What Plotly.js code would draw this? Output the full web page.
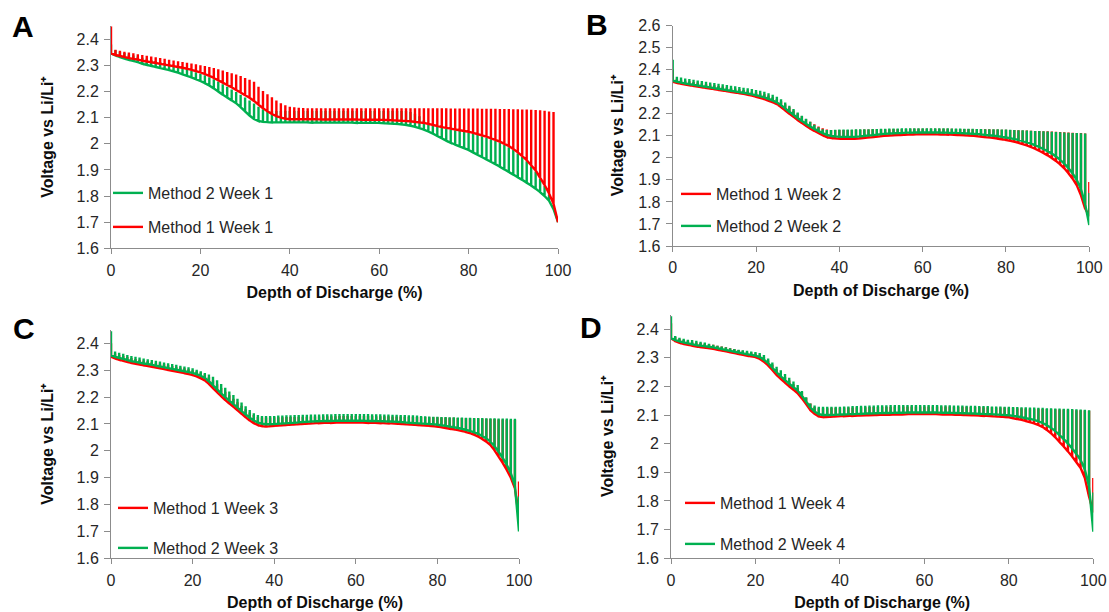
<!DOCTYPE html>
<html>
<head>
<meta charset="utf-8">
<script src="https://cdn.plot.ly/plotly-3.0.1.min.js"></script>
<style>html,body{margin:0;padding:0;background:#fff;}#chart{width:1109px;height:612px;}</style>
</head>
<body>
<div id="chart"></div>
<script>
// Depth of discharge (%) at each pulse
const dod = [0,1,2,3,4,5,6,7,8,9,10,11,12,13,14,15,16,17,18,19,20,21,22,23,24,25,26,27,28,29,30,31,32,33,34,35,36,37,38,39,40,41,42,43,44,45,46,47,48,49,50,51,52,53,54,55,56,57,58,59,60,61,62,63,64,65,66,67,68,69,70,71,72,73,74,75,76,77,78,79,80,81,82,83,84,85,86,87,88,89,90,91,92,93,94,95,96,97,98,99,100];

const xTickVals = [0,20,40,60,80,100];
const yTickVals = [1.6,1.7,1.8,1.9,2.0,2.1,2.2,2.3,2.4];
const yTickText = ['1.6','1.7','1.8','1.9','2','2.1','2.2','2.3','2.4'];
const yTickValsB = [1.6,1.7,1.8,1.9,2.0,2.1,2.2,2.3,2.4,2.5,2.6];
const yTickTextB = ['1.6','1.7','1.8','1.9','2','2.1','2.2','2.3','2.4','2.5','2.6'];

const panelLetters = ['A','B','C','D'];
const xTitle = 'Depth of Discharge (%)';
const yTitle = 'Voltage vs Li/Li\u207A';
const seriesNames = {
  A_M1:'Method 1 Week 1', A_M2:'Method 2 Week 1',
  B_M1:'Method 1 Week 2', B_M2:'Method 2 Week 2',
  C_M1:'Method 1 Week 3', C_M2:'Method 2 Week 3',
  D_M1:'Method 1 Week 4', D_M2:'Method 2 Week 4'
};

// Panel A – Method 1 Week 1 (voltage under load / after rest)
const A_M1_low = [2.346,2.340,2.336,2.332,2.328,2.325,2.322,2.318,2.315,2.312,
 2.309,2.306,2.303,2.300,2.297,2.294,2.291,2.287,2.283,2.278,
 2.273,2.267,2.260,2.252,2.243,2.234,2.225,2.216,2.206,2.196,
 2.186,2.176,2.164,2.150,2.136,2.124,2.114,2.106,2.100,2.096,
 2.094,2.094,2.094,2.094,2.094,2.094,2.094,2.093,2.093,2.093,
 2.093,2.093,2.093,2.093,2.093,2.093,2.092,2.092,2.092,2.092,
 2.092,2.091,2.091,2.090,2.089,2.088,2.087,2.086,2.084,2.082,
 2.080,2.076,2.072,2.068,2.064,2.061,2.058,2.055,2.052,2.049,
 2.046,2.042,2.037,2.032,2.027,2.021,2.015,2.008,2.000,1.991,
 1.980,1.967,1.953,1.937,1.918,1.898,1.870,1.842,1.810,1.770,
 1.700];
const A_M1_up = [2.450,2.360,2.356,2.352,2.349,2.346,2.343,2.340,2.337,2.334,
 2.331,2.328,2.325,2.322,2.319,2.316,2.313,2.310,2.307,2.304,
 2.301,2.298,2.294,2.290,2.285,2.280,2.275,2.270,2.265,2.259,
 2.252,2.245,2.237,2.218,2.202,2.190,2.178,2.166,2.155,2.147,
 2.142,2.140,2.138,2.137,2.136,2.136,2.136,2.136,2.136,2.136,
 2.136,2.136,2.136,2.136,2.136,2.136,2.136,2.136,2.136,2.136,
 2.136,2.136,2.136,2.136,2.136,2.136,2.136,2.136,2.136,2.136,
 2.136,2.136,2.136,2.136,2.136,2.136,2.135,2.135,2.135,2.135,
 2.135,2.135,2.135,2.134,2.134,2.134,2.134,2.133,2.133,2.133,
 2.132,2.132,2.131,2.131,2.130,2.129,2.128,2.126,2.124,2.122,
 1.700];
// Panel A – Method 2 Week 1
const A_M2_low = [2.346,2.338,2.332,2.326,2.321,2.317,2.312,2.306,2.302,2.298,
 2.294,2.290,2.286,2.282,2.277,2.272,2.266,2.260,2.254,2.247,
 2.240,2.232,2.223,2.212,2.200,2.188,2.177,2.166,2.155,2.140,
 2.124,2.108,2.095,2.087,2.084,2.083,2.082,2.082,2.082,2.082,
 2.082,2.082,2.082,2.082,2.082,2.081,2.081,2.081,2.081,2.081,
 2.081,2.081,2.081,2.081,2.081,2.080,2.080,2.080,2.080,2.080,
 2.080,2.079,2.078,2.077,2.076,2.074,2.072,2.069,2.065,2.060,
 2.054,2.047,2.039,2.030,2.021,2.012,2.004,1.997,1.990,1.983,
 1.976,1.967,1.958,1.949,1.940,1.931,1.922,1.912,1.902,1.892,
 1.882,1.872,1.862,1.851,1.840,1.828,1.815,1.800,1.782,1.750,
 1.700];
const A_M2_up = [2.380,2.358,2.352,2.347,2.342,2.338,2.334,2.329,2.325,2.321,
 2.317,2.313,2.309,2.305,2.301,2.296,2.291,2.286,2.280,2.274,
 2.268,2.262,2.255,2.247,2.238,2.228,2.218,2.208,2.198,2.188,
 2.177,2.166,2.154,2.142,2.132,2.126,2.125,2.125,2.125,2.125,
 2.125,2.125,2.125,2.125,2.125,2.125,2.125,2.125,2.125,2.125,
 2.125,2.125,2.125,2.125,2.125,2.125,2.125,2.125,2.125,2.125,
 2.125,2.125,2.125,2.125,2.125,2.125,2.125,2.122,2.115,2.105,
 2.090,2.074,2.070,2.066,2.062,2.058,2.055,2.052,2.049,2.046,
 2.043,2.039,2.034,2.029,2.023,2.017,2.011,2.004,1.996,1.987,
 1.976,1.963,1.949,1.933,1.914,1.894,1.866,1.838,1.806,1.766,
 1.700];

// Panel B – Method 1 Week 2
const B_M1_low = [2.345,2.340,2.336,2.332,2.329,2.326,2.323,2.320,2.317,2.314,
 2.311,2.308,2.305,2.302,2.299,2.296,2.293,2.290,2.286,2.282,
 2.277,2.272,2.266,2.259,2.252,2.243,2.230,2.215,2.200,2.186,
 2.171,2.158,2.145,2.133,2.122,2.112,2.102,2.094,2.090,2.088,
 2.087,2.086,2.086,2.086,2.087,2.088,2.090,2.092,2.094,2.096,
 2.098,2.100,2.101,2.102,2.103,2.104,2.105,2.106,2.106,2.107,
 2.107,2.107,2.107,2.107,2.106,2.106,2.105,2.105,2.104,2.103,
 2.102,2.101,2.100,2.098,2.096,2.094,2.092,2.090,2.087,2.084,
 2.081,2.077,2.073,2.068,2.062,2.056,2.049,2.041,2.032,2.022,
 2.011,1.999,1.986,1.970,1.952,1.930,1.905,1.875,1.830,1.770,
 1.735];
const B_M1_up = [2.400,2.358,2.354,2.350,2.347,2.344,2.341,2.338,2.335,2.332,
 2.329,2.326,2.323,2.320,2.317,2.314,2.311,2.308,2.305,2.301,
 2.297,2.293,2.288,2.282,2.275,2.267,2.256,2.243,2.229,2.215,
 2.201,2.188,2.175,2.163,2.152,2.142,2.134,2.128,2.126,2.126,
 2.126,2.126,2.126,2.126,2.127,2.127,2.128,2.128,2.129,2.129,
 2.130,2.130,2.130,2.131,2.131,2.131,2.131,2.132,2.132,2.132,
 2.132,2.132,2.132,2.132,2.132,2.132,2.132,2.132,2.131,2.131,
 2.131,2.131,2.130,2.130,2.130,2.129,2.129,2.128,2.128,2.127,
 2.127,2.126,2.126,2.125,2.124,2.124,2.123,2.122,2.121,2.120,
 2.120,2.119,2.118,2.117,2.116,2.115,2.114,2.113,2.112,2.110,
 1.890];
// Panel B – Method 2 Week 2
const B_M2_low = [2.350,2.345,2.341,2.337,2.334,2.331,2.328,2.325,2.322,2.319,
 2.316,2.313,2.310,2.307,2.304,2.301,2.298,2.295,2.292,2.288,
 2.284,2.279,2.274,2.267,2.260,2.251,2.239,2.224,2.209,2.195,
 2.180,2.167,2.154,2.142,2.131,2.121,2.112,2.104,2.099,2.097,
 2.096,2.095,2.095,2.095,2.096,2.097,2.099,2.101,2.103,2.105,
 2.107,2.109,2.110,2.111,2.112,2.113,2.114,2.114,2.115,2.115,
 2.115,2.115,2.115,2.115,2.115,2.114,2.114,2.113,2.113,2.112,
 2.111,2.110,2.109,2.108,2.106,2.104,2.102,2.100,2.098,2.095,
 2.092,2.089,2.085,2.081,2.076,2.070,2.064,2.057,2.049,2.040,
 2.030,2.019,2.006,1.991,1.974,1.953,1.929,1.899,1.858,1.790,
 1.695];
const B_M2_up = [2.445,2.368,2.364,2.360,2.357,2.354,2.351,2.348,2.345,2.342,
 2.339,2.336,2.333,2.330,2.327,2.324,2.321,2.318,2.315,2.312,
 2.308,2.304,2.299,2.293,2.286,2.277,2.265,2.251,2.236,2.221,
 2.206,2.191,2.177,2.163,2.150,2.139,2.130,2.126,2.126,2.127,
 2.128,2.128,2.128,2.128,2.129,2.129,2.130,2.130,2.131,2.131,
 2.132,2.132,2.133,2.133,2.133,2.134,2.134,2.134,2.134,2.134,
 2.134,2.134,2.134,2.134,2.134,2.134,2.134,2.133,2.133,2.133,
 2.132,2.132,2.132,2.131,2.131,2.130,2.130,2.129,2.129,2.128,
 2.128,2.127,2.126,2.125,2.125,2.124,2.123,2.122,2.121,2.120,
 2.119,2.118,2.117,2.116,2.115,2.114,2.113,2.112,2.111,2.110,
 1.840];

// Panel C – Method 1 Week 3
const C_M1_low = [2.350,2.344,2.339,2.335,2.331,2.327,2.324,2.321,2.318,2.316,
 2.313,2.310,2.307,2.304,2.301,2.298,2.295,2.292,2.289,2.286,
 2.282,2.277,2.270,2.262,2.249,2.233,2.218,2.203,2.189,2.176,
 2.164,2.151,2.138,2.125,2.113,2.103,2.096,2.092,2.091,2.092,
 2.093,2.094,2.095,2.096,2.097,2.098,2.099,2.100,2.101,2.102,
 2.103,2.103,2.104,2.104,2.104,2.105,2.105,2.105,2.105,2.105,
 2.105,2.105,2.105,2.104,2.104,2.104,2.103,2.103,2.102,2.102,
 2.101,2.100,2.099,2.098,2.097,2.096,2.095,2.094,2.093,2.092,
 2.090,2.088,2.085,2.082,2.080,2.077,2.074,2.070,2.066,2.060,
 2.053,2.044,2.034,2.021,2.002,1.978,1.955,1.929,1.900,1.860,
 1.750];
const C_M1_up = [2.400,2.362,2.357,2.353,2.349,2.345,2.342,2.339,2.336,2.334,
 2.331,2.328,2.325,2.322,2.319,2.316,2.313,2.310,2.307,2.304,
 2.300,2.296,2.291,2.285,2.275,2.262,2.248,2.234,2.220,2.207,
 2.194,2.181,2.168,2.155,2.143,2.133,2.126,2.124,2.124,2.124,
 2.125,2.125,2.125,2.126,2.126,2.126,2.127,2.127,2.127,2.128,
 2.128,2.128,2.129,2.129,2.129,2.129,2.130,2.130,2.130,2.130,
 2.130,2.130,2.130,2.130,2.130,2.129,2.129,2.129,2.129,2.128,
 2.128,2.128,2.127,2.127,2.127,2.126,2.126,2.126,2.125,2.125,
 2.125,2.124,2.124,2.123,2.123,2.122,2.122,2.121,2.121,2.120,
 2.120,2.119,2.119,2.118,2.118,2.117,2.117,2.116,2.116,2.115,
 1.886];
// Panel C – Method 2 Week 3
const C_M2_low = [2.355,2.350,2.346,2.342,2.338,2.334,2.331,2.328,2.325,2.323,
 2.320,2.317,2.314,2.311,2.308,2.305,2.302,2.299,2.296,2.293,
 2.290,2.285,2.279,2.271,2.259,2.244,2.229,2.214,2.200,2.187,
 2.174,2.161,2.148,2.135,2.123,2.113,2.105,2.101,2.099,2.099,
 2.100,2.101,2.102,2.103,2.104,2.105,2.106,2.107,2.108,2.109,
 2.110,2.110,2.111,2.111,2.111,2.112,2.112,2.112,2.112,2.112,
 2.112,2.112,2.112,2.111,2.111,2.111,2.110,2.110,2.109,2.109,
 2.108,2.107,2.106,2.105,2.104,2.103,2.102,2.101,2.100,2.099,
 2.097,2.095,2.093,2.090,2.088,2.085,2.082,2.078,2.074,2.069,
 2.063,2.055,2.046,2.034,2.017,1.996,1.974,1.948,1.917,1.870,
 1.700];
const C_M2_up = [2.445,2.370,2.365,2.361,2.357,2.353,2.350,2.347,2.344,2.341,
 2.338,2.335,2.332,2.329,2.326,2.323,2.320,2.317,2.314,2.311,
 2.307,2.302,2.296,2.290,2.284,2.276,2.263,2.249,2.235,2.221,
 2.208,2.194,2.180,2.166,2.152,2.140,2.133,2.130,2.130,2.130,
 2.130,2.131,2.131,2.132,2.132,2.133,2.133,2.134,2.134,2.135,
 2.135,2.135,2.136,2.136,2.136,2.137,2.137,2.137,2.137,2.137,
 2.137,2.137,2.137,2.137,2.136,2.136,2.136,2.135,2.135,2.134,
 2.134,2.133,2.133,2.132,2.132,2.131,2.130,2.129,2.128,2.127,
 2.127,2.126,2.126,2.125,2.125,2.124,2.124,2.123,2.123,2.122,
 2.122,2.122,2.121,2.121,2.121,2.120,2.120,2.120,2.119,2.119,
 1.830];

// Panel D – Method 1 Week 4
const D_M1_low = [2.368,2.358,2.352,2.348,2.345,2.342,2.339,2.337,2.335,2.333,
 2.331,2.328,2.325,2.322,2.319,2.316,2.313,2.310,2.307,2.305,
 2.302,2.296,2.286,2.273,2.257,2.240,2.226,2.213,2.200,2.188,
 2.176,2.158,2.138,2.117,2.104,2.095,2.093,2.093,2.094,2.095,
 2.096,2.096,2.097,2.097,2.098,2.098,2.099,2.099,2.100,2.100,
 2.101,2.101,2.101,2.102,2.102,2.102,2.103,2.103,2.103,2.103,
 2.103,2.103,2.103,2.103,2.102,2.102,2.102,2.101,2.101,2.100,
 2.100,2.099,2.099,2.098,2.097,2.097,2.096,2.095,2.094,2.093,
 2.092,2.089,2.086,2.083,2.079,2.075,2.071,2.065,2.058,2.048,
 2.036,2.022,2.006,1.990,1.973,1.955,1.935,1.915,1.880,1.815,
 1.760];
const D_M1_up = [2.420,2.372,2.366,2.362,2.359,2.356,2.353,2.351,2.349,2.347,
 2.345,2.342,2.339,2.336,2.333,2.330,2.327,2.324,2.321,2.318,
 2.315,2.310,2.302,2.290,2.276,2.260,2.246,2.233,2.220,2.207,
 2.195,2.180,2.160,2.140,2.128,2.124,2.124,2.124,2.125,2.125,
 2.125,2.126,2.126,2.126,2.127,2.127,2.127,2.128,2.128,2.128,
 2.129,2.129,2.129,2.130,2.130,2.130,2.130,2.130,2.130,2.130,
 2.130,2.130,2.130,2.130,2.130,2.130,2.130,2.129,2.129,2.129,
 2.129,2.128,2.128,2.128,2.127,2.127,2.127,2.126,2.126,2.126,
 2.125,2.125,2.124,2.124,2.123,2.123,2.122,2.122,2.121,2.121,
 2.120,2.120,2.119,2.119,2.118,2.118,2.117,2.117,2.116,2.115,
 1.880];
// Panel D – Method 2 Week 4
const D_M2_low = [2.368,2.362,2.357,2.353,2.350,2.347,2.344,2.342,2.340,2.338,
 2.336,2.333,2.330,2.327,2.324,2.321,2.318,2.315,2.312,2.310,
 2.307,2.302,2.293,2.281,2.265,2.249,2.235,2.222,2.209,2.197,
 2.185,2.167,2.147,2.126,2.112,2.103,2.100,2.100,2.100,2.101,
 2.102,2.102,2.103,2.103,2.104,2.104,2.105,2.105,2.106,2.106,
 2.107,2.107,2.107,2.108,2.108,2.108,2.109,2.109,2.109,2.109,
 2.109,2.109,2.109,2.109,2.108,2.108,2.108,2.107,2.107,2.106,
 2.106,2.105,2.105,2.104,2.104,2.103,2.103,2.102,2.101,2.100,
 2.099,2.097,2.095,2.092,2.089,2.086,2.083,2.078,2.072,2.064,
 2.055,2.044,2.030,2.016,2.000,1.983,1.964,1.943,1.910,1.850,
 1.693];
const D_M2_up = [2.445,2.376,2.370,2.366,2.363,2.362,2.359,2.356,2.353,2.349,
 2.345,2.342,2.339,2.336,2.333,2.330,2.328,2.326,2.324,2.322,
 2.320,2.316,2.309,2.297,2.283,2.268,2.256,2.243,2.230,2.217,
 2.205,2.184,2.162,2.140,2.133,2.129,2.129,2.129,2.129,2.129,
 2.129,2.130,2.130,2.131,2.131,2.132,2.132,2.133,2.133,2.134,
 2.134,2.134,2.135,2.135,2.135,2.135,2.135,2.135,2.135,2.135,
 2.135,2.135,2.135,2.135,2.134,2.134,2.134,2.133,2.133,2.133,
 2.132,2.132,2.132,2.131,2.131,2.131,2.130,2.130,2.130,2.129,
 2.129,2.128,2.128,2.127,2.127,2.126,2.126,2.125,2.125,2.124,
 2.124,2.123,2.123,2.122,2.122,2.121,2.120,2.119,2.118,2.117,
 1.830];

// ---------- build the figure ----------
const RED = '#FF0000', GREEN = '#00B050';
const FONT = 'Liberation Sans, Arial, Helvetica, sans-serif';
const LW = 2.4;
const FS = 16;

function pulseTrace(low, up, name, color, xa, ya, legendId) {
  const xs = [], ys = [];
  for (let i = 0; i < dod.length; i++) {
    xs.push(dod[i], dod[i], dod[i]);
    ys.push(low[i], up[i], low[i]);
  }
  return {
    type: 'scatter', mode: 'lines', x: xs, y: ys, name: name,
    xaxis: xa, yaxis: ya, legend: legendId, showlegend: true,
    line: {color: color, width: LW, simplify: false},
    hoverinfo: 'skip'
  };
}

const traces = [
  pulseTrace(A_M2_low, A_M2_up, seriesNames.A_M2, GREEN, 'x', 'y', 'legend'),
  pulseTrace(A_M1_low, A_M1_up, seriesNames.A_M1, RED, 'x', 'y', 'legend2'),
  pulseTrace(B_M1_low, B_M1_up, seriesNames.B_M1, RED, 'x2', 'y2', 'legend3'),
  pulseTrace(B_M2_low, B_M2_up, seriesNames.B_M2, GREEN, 'x2', 'y2', 'legend4'),
  pulseTrace(C_M1_low, C_M1_up, seriesNames.C_M1, RED, 'x3', 'y3', 'legend5'),
  pulseTrace(C_M2_low, C_M2_up, seriesNames.C_M2, GREEN, 'x3', 'y3', 'legend6'),
  pulseTrace(D_M1_low, D_M1_up, seriesNames.D_M1, RED, 'x4', 'y4', 'legend7'),
  pulseTrace(D_M2_low, D_M2_up, seriesNames.D_M2, GREEN, 'x4', 'y4', 'legend8')
];

const W = 1109, H = 612;
const AXC = '#8c8c8c';
function xAxis(domain, anchor) {
  return {
    domain: domain, anchor: anchor, range: [0, 100],
    tickmode: 'array', tickvals: xTickVals,
    showline: true, linecolor: AXC, linewidth: 1,
    ticks: 'outside', ticklen: 5, tickcolor: AXC, tickwidth: 1,
    ticklabelstandoff: 2,
    showgrid: false, zeroline: false, fixedrange: true,
    tickfont: {family: FONT, size: FS, color: '#262626'},
    title: {text: xTitle, font: {family: FONT, size: FS, color: '#0d0d0d', weight: 'bold'}, standoff: 9}
  };
}
function yAxis(domain, anchor, range, tv, tt, standoff) {
  return {
    domain: domain, anchor: anchor, range: range,
    tickmode: 'array', tickvals: tv, ticktext: tt,
    showline: true, linecolor: AXC, linewidth: 1,
    ticks: 'outside', ticklen: 6, tickcolor: AXC, tickwidth: 1,
    ticklabelstandoff: 2,
    showgrid: false, zeroline: false, fixedrange: true,
    tickfont: {family: FONT, size: FS, color: '#262626'},
    title: {text: yTitle, font: {family: FONT, size: FS, color: '#0d0d0d', weight: 'bold'}, standoff: standoff}
  };
}
const px = v => v / W;
const py = v => 1 - v / H;

function leg(xpx, ypx) {
  return {x: px(xpx), y: py(ypx), xanchor: 'left', yanchor: 'middle',
    bgcolor: 'rgba(0,0,0,0)', borderwidth: 0, itemwidth: 30,
    font: {family: FONT, size: FS, color: '#262626'}};
}

const layout = {
  width: W, height: H,
  margin: {l: 0, r: 0, t: 0, b: 0},
  paper_bgcolor: '#ffffff', plot_bgcolor: 'rgba(0,0,0,0)',
  font: {family: FONT, size: FS, color: '#262626'},
  xaxis: xAxis([px(111), px(558)], 'y'),
  yaxis: yAxis([py(248.3), py(26.2)], 'x', [1.6, 2.45], yTickVals, yTickText, 18),
  xaxis2: xAxis([px(672.7), px(1089.3)], 'y2'),
  yaxis2: yAxis([py(246), py(25.5)], 'x2', [1.6, 2.6], yTickValsB, yTickTextB, 10),
  xaxis3: xAxis([px(111), px(519)], 'y3'),
  yaxis3: yAxis([py(558.3), py(329.9)], 'x3', [1.6, 2.45], yTickVals, yTickText, 18),
  xaxis4: xAxis([px(671), px(1093.3)], 'y4'),
  yaxis4: yAxis([py(558.3), py(314.7)], 'x4', [1.6, 2.45], yTickVals, yTickText, 18),
  legend: leg(108, 193),
  legend2: leg(108, 227),
  legend3: leg(676, 194),
  legend4: leg(676, 226),
  legend5: leg(113, 508),
  legend6: leg(113, 548),
  legend7: leg(680, 503),
  legend8: leg(680, 544),
  annotations: [
    {text: panelLetters[0], x: px(23), y: py(27)},
    {text: panelLetters[1], x: px(597), y: py(25)},
    {text: panelLetters[2], x: px(24), y: py(328)},
    {text: panelLetters[3], x: px(591), y: py(327)}
  ].map(a => Object.assign(a, {xref: 'paper', yref: 'paper', xanchor: 'center', yanchor: 'middle',
      showarrow: false, font: {family: FONT, size: 30, color: '#000000', weight: 'bold'}})),
  showlegend: true
};

Plotly.newPlot('chart', traces, layout, {displayModeBar: false, staticPlot: true});
</script>
</body>
</html>
